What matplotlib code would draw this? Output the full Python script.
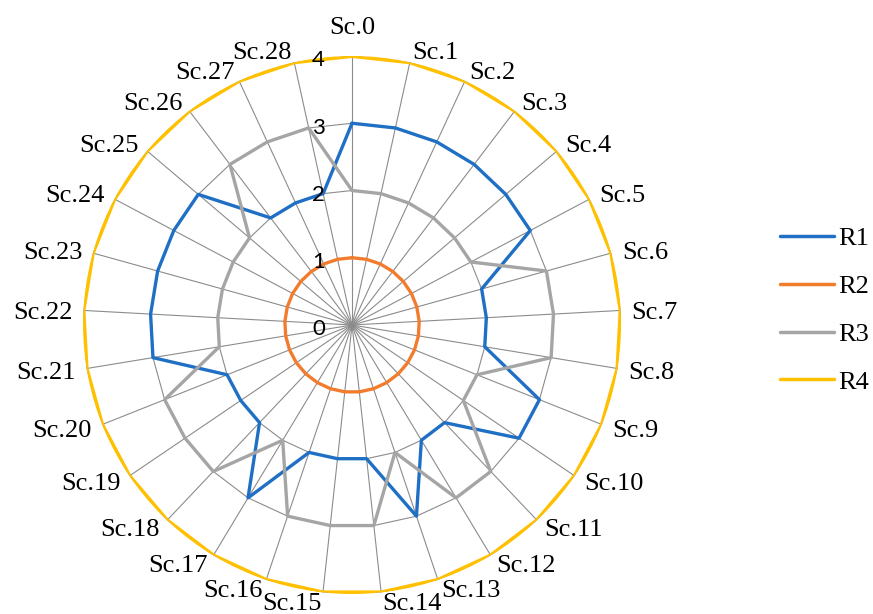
import numpy as np
import matplotlib
matplotlib.use("Agg")
import matplotlib.pyplot as plt
from matplotlib.lines import Line2D

# Spoke categories
categories = ["Sc.0", "Sc.1", "Sc.2", "Sc.3", "Sc.4", "Sc.5", "Sc.6", "Sc.7",
              "Sc.8", "Sc.9", "Sc.10", "Sc.11", "Sc.12", "Sc.13", "Sc.14",
              "Sc.15", "Sc.16", "Sc.17", "Sc.18", "Sc.19", "Sc.20", "Sc.21",
              "Sc.22", "Sc.23", "Sc.24", "Sc.25", "Sc.26", "Sc.27", "Sc.28"]

# Series values per spoke
R1 = [3, 3, 3, 3, 3, 3, 2, 2, 2, 3, 3, 2, 2, 3, 2, 2, 2, 3, 2, 2, 2, 3, 3, 3, 3, 3, 2, 2, 2]
R2 = [1, 1, 1, 1, 1, 1, 1, 1, 1, 1, 1, 1, 1, 1, 1, 1, 1, 1, 1, 1, 1, 1, 1, 1, 1, 1, 1, 1, 1]
R3 = [2, 2, 2, 2, 2, 2, 3, 3, 3, 2, 2, 3, 3, 2, 3, 3, 3, 2, 3, 3, 3, 2, 2, 2, 2, 2, 3, 3, 3]
R4 = [4, 4, 4, 4, 4, 4, 4, 4, 4, 4, 4, 4, 4, 4, 4, 4, 4, 4, 4, 4, 4, 4, 4, 4, 4, 4, 4, 4, 4]

series_names = ["R1", "R2", "R3", "R4"]
series_colors = ["#1F6FC5", "#F27C2E", "#A5A5A5", "#FFC000"]
series_widths = [2.4, 2.4, 2.4, 2.9]

radial_ticks = [0, 1, 2, 3, 4]
tick_labels = ["0", "1", "2", "3", "4"]

SERIF = "Liberation Serif"
SANS = "Lato"
DPI = 100

fig = plt.figure(figsize=(8.73, 6.14), dpi=DPI)
fig.patch.set_facecolor("white")

ax = fig.add_axes([0.0951, 0.0326, 0.6163, 0.8762], projection="polar")
ax.set_theta_zero_location("N")
ax.set_theta_direction(-1)
ax.set_ylim(0, 4)
ax.set_axis_off()

n = len(categories)
theta = np.arange(n) * 2 * np.pi / n
theta_closed = np.append(theta, theta[0])

grid_color = "#8C8C8C"
# spokes
for t in theta:
    ax.plot([t, t], [0, radial_ticks[-1]], color=grid_color, lw=0.8, zorder=1)
# polygonal rings
for r in radial_ticks[1:]:
    ax.plot(theta_closed, [r] * (n + 1), color=grid_color, lw=0.8, zorder=1)

# data series
handles = []
for name, vals, col, lw in zip(series_names, [R1, R2, R3, R4],
                               series_colors, series_widths):
    v = np.append(vals, vals[0])
    ax.plot(theta_closed, v, color=col, lw=lw, zorder=3,
            solid_joinstyle="round", solid_capstyle="round")
    handles.append(Line2D([0], [0], color=col, lw=2.5, solid_capstyle="round"))

# radial tick labels, to the left of the top spoke
px = 72.0 / DPI
for r, lab in zip(radial_ticks, tick_labels):
    ax.annotate(lab, xy=(0, r), xycoords="data",
                xytext=(-27 * px, -10.5 * px), textcoords="offset points",
                ha="right", va="baseline", fontsize=16, family=SANS,
                color="#000000", zorder=5)

# category labels around the outer ring
fs = 19
cap_px = 0.662 * fs / px
for t, lab in zip(theta, categories):
    s, c = np.sin(t), np.cos(t)
    if abs(s) < 1e-6:
        ha = "center"
    elif s > 0:
        ha = "left"
    else:
        ha = "right"
    k = 12 if c > 0 else 9
    rise = k * c - cap_px / 2
    if ha == "center" and c > 0:
        rise += 19
    ax.annotate(lab, xy=(t, radial_ticks[-1]), xycoords="data",
                xytext=(11 * s * px, rise * px), textcoords="offset points",
                ha=ha, va="baseline", fontsize=fs, family=SERIF,
                color="#000000", annotation_clip=False, zorder=5)

fig.legend(handles, series_names, loc="center left",
           bbox_to_anchor=(0.8935, 0.4948), frameon=False,
           prop={"family": SERIF, "size": 19},
           handlelength=2.05, handletextpad=0.15, labelspacing=0.92,
           borderpad=0, borderaxespad=0)

fig.savefig("out.png", dpi=DPI, facecolor="white")
